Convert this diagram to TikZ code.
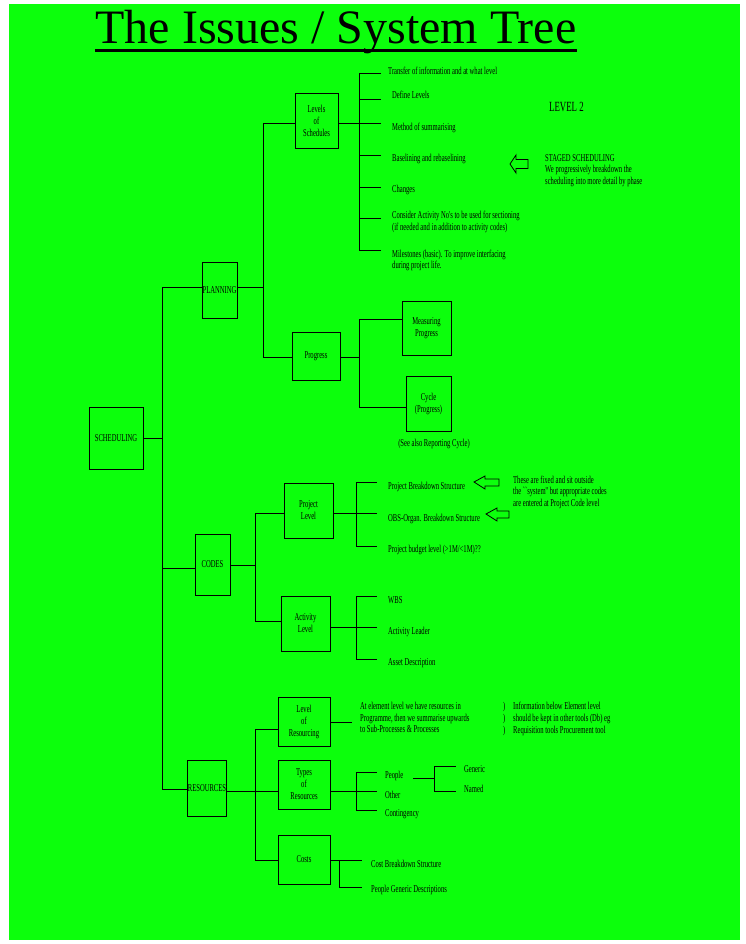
\documentclass[tikz,border=0pt]{standalone}
\usepackage{fontspec}
\setmainfont{Liberation Serif}
\newfontfamily\cond[FakeStretch=0.63]{Liberation Serif}
\definecolor{bg}{RGB}{12,255,12}
\tikzset{
  box/.style={draw, line width=0.9pt, inner sep=0pt, align=center, font=\cond\fontsize{10.5}{12}\selectfont},
  lab/.style={inner sep=0pt, anchor=base west, font=\cond\fontsize{10.5}{12}\selectfont},
  ln/.style={line width=0.9pt},
  harrow/.style={line width=0.8pt}
}
\begin{document}
\begin{tikzpicture}[x=1pt,y=-1pt]
\useasboundingbox (0,0) rectangle (746,944);
\fill[bg] (9,4) rectangle (740,940);
% title
\node[inner sep=0pt, anchor=base, font=\fontsize{48}{50}\selectfont] (title) at (336,44) {The Issues / System Tree};
\draw[line width=2.5pt] ([yshift=-6.5pt]title.base west) -- ([yshift=-6.5pt]title.base east);
% boxes
\node[box, minimum width=54, minimum height=62] (sched) at (116,438) {SCHEDULING};
\node[box, minimum width=35, minimum height=56] (plan) at (219.5,290) {PLANNING};
\node[box, minimum width=35, minimum height=61] (codes) at (212.5,564.5) {CODES};
\node[box, minimum width=38, minimum height=56] (res) at (207,788) {RESOURCES};
\node[box, minimum width=43, minimum height=55] (levsch) at (316.5,120.5) {Levels\\of\\Schedules};
\node[box, minimum width=48, minimum height=48] (prog) at (316,356) {Progress};
\node[box, minimum width=49, minimum height=54] (meas) at (426.5,328) {Measuring\\Progress};
\node[box, minimum width=45, minimum height=55] (cycle) at (428.5,403.5) {Cycle\\(Progress)};
\node[box, minimum width=49, minimum height=55] (projlev) at (308.5,510.5) {Project\\Level};
\node[box, minimum width=49, minimum height=55] (actlev) at (305.5,623.5) {Activity\\Level};
\node[box, minimum width=52, minimum height=49] (levres) at (304,721.5) {Level\\of\\Resourcing};
\node[box, minimum width=52, minimum height=49] (types) at (304,784.5) {Types\\of\\Resources};
\node[box, minimum width=52, minimum height=49] (costs) at (304,859.5) {Costs};
% main trunk
\coordinate (m1) at (162,287);
\coordinate (m2) at (162,568);
\coordinate (m3) at (162,789);
\draw[ln] (sched.east) -- (sched.east -| m1);
\draw[ln] (m1) -- (m3);
\draw[ln] (m1) -- (m1 -| plan.west);
\draw[ln] (m2) -- (m2 -| codes.west);
\draw[ln] (m3) -- (m3 -| res.west);
% planning
\coordinate (p0) at (263,287);
\coordinate (p1) at (263,123);
\coordinate (p2) at (263,357);
\draw[ln] (plan.east |- p0) -- (p0);
\draw[ln] (p1) -- (p2);
\draw[ln] (p1) -- (p1 -| levsch.west);
\draw[ln] (p2) -- (p2 -| prog.west);
% levels of schedules
\coordinate (l0) at (359,123);
\draw[ln] (levsch.east |- l0) -- (l0);
\draw[ln] (359,73) -- (359,250);
\foreach \yy in {73,99,123,155,187,218,250} \draw[ln] (359,\yy) -- (381,\yy);
\node[lab] (t1) at (388,75) {Transfer of information and at what level};
\node[lab] (t2) at (392,99) {Define Levels};
\node[lab] (t3) at (392,131) {Method of summarising};
\node[lab] (t4) at (392,162) {Baselining and rebaselining};
\node[lab] (t5) at (392,193) {Changes};
\node[lab] (t6a) at (392,218) {Consider Activity No's to be used for sectioning};
\node[lab] (t6b) at (392,230) {(if needed and in addition to activity codes)};
\node[lab] (t7a) at (392,257) {Milestones (basic). To improve interfacing};
\node[lab] (t7b) at (392,268) {during project life.};
\node[lab, font=\cond\fontsize{14}{16}\selectfont] (lev2) at (549,112) {LEVEL 2};
\draw[harrow] (510,164) -- (516,155) -- (516,159.5) -- (528,159.5) -- (528,168.5) -- (516,168.5) -- (516,173) -- cycle;
\node[lab] (st1) at (545,161) {STAGED SCHEDULING};
\node[lab] (st2) at (545,173) {We progressively breakdown the};
\node[lab] (st3) at (545,185) {scheduling into more detail by phase};
% progress
\coordinate (g0) at (359,357);
\coordinate (gt) at (359,319);
\coordinate (gb) at (359,407);
\draw[ln] (prog.east |- g0) -- (g0);
\draw[ln] (gt) -- (gb);
\draw[ln] (gt) -- (gt -| meas.west);
\draw[ln] (gb) -- (gb -| cycle.west);
\node[lab, anchor=base] (see) at (434,446) {(See also Reporting Cycle)};
% codes
\coordinate (c0) at (255,565);
\coordinate (ct) at (255,513);
\coordinate (cb) at (255,621);
\draw[ln] (codes.east |- c0) -- (c0);
\draw[ln] (ct) -- (cb);
\draw[ln] (ct) -- (ct -| projlev.west);
\draw[ln] (cb) -- (cb -| actlev.west);
% project level
\coordinate (q0) at (356,513);
\draw[ln] (projlev.east |- q0) -- (q0);
\draw[ln] (356,482) -- (356,546);
\foreach \yy in {482,513,546} \draw[ln] (356,\yy) -- (377,\yy);
\node[lab] (pb1) at (388,489) {Project Breakdown Structure};
\node[lab] (pb2) at (388,521) {OBS-Organ. Breakdown Structure};
\node[lab] (pb3) at (388,552) {Project budget level (>1M/<1M)??};
\draw[harrow] (474,482) -- (485,476) -- (485,479) -- (499,479) -- (499,486) -- (485,486) -- (485,489) -- cycle;
\draw[harrow] (486,514) -- (497,508) -- (497,511) -- (509,511) -- (509,518) -- (497,518) -- (497,521) -- cycle;
\node[lab] (fx1) at (513,483) {These are fixed and sit outside};
\node[lab] (fx2) at (513,494) {the ``system'' but appropriate codes};
\node[lab] (fx3) at (513,506) {are entered at Project Code level};
% activity level
\coordinate (a0) at (356,627);
\draw[ln] (actlev.east |- a0) -- (a0);
\draw[ln] (356,596) -- (356,659);
\foreach \yy in {596,627,659} \draw[ln] (356,\yy) -- (377,\yy);
\node[lab] (w1) at (388,603) {WBS};
\node[lab] (w2) at (388,634) {Activity Leader};
\node[lab] (w3) at (388,665) {Asset Description};
% resources
\coordinate (r0) at (255,791);
\coordinate (rt) at (255,729);
\coordinate (rb) at (255,860);
\draw[ln] (res.east |- r0) -- (r0 -| types.west);
\draw[ln] (rt) -- (rb);
\draw[ln] (rt) -- (rt -| levres.west);
\draw[ln] (rb) -- (rb -| costs.west);
% level of resourcing
\coordinate (v0) at (352,722);
\draw[ln] (levres.east |- v0) -- (v0);
\node[lab] (el1) at (360,709) {At element level we have resources in};
\node[lab] (el2) at (360,721) {Programme, then we summarise upwards};
\node[lab] (el3) at (360,732) {to Sub-Processes \& Processes};
\node[lab] (pa1) at (503,709) {)};
\node[lab] (pa2) at (503,721) {)};
\node[lab] (pa3) at (503,733) {)};
\node[lab] (in1) at (513,709) {Information below Element level};
\node[lab] (in2) at (513,721) {should be kept in other tools (Db) eg};
\node[lab] (in3) at (513,733) {Requisition tools Procurement tool};
% types of resources
\coordinate (y0) at (356,791);
\draw[ln] (types.east |- y0) -- (y0);
\draw[ln] (356,772) -- (356,810);
\foreach \yy in {772,791,810} \draw[ln] (356,\yy) -- (377,\yy);
\node[lab] (pe) at (385,778) {People};
\node[lab] (ot) at (385,798) {Other};
\node[lab] (co) at (385,816) {Contingency};
\coordinate (e0) at (413,778);
\coordinate (e1) at (434,778);
\coordinate (et) at (434,766);
\coordinate (eb) at (434,791);
\draw[ln] (e0) -- (e1);
\draw[ln] (et) -- (eb);
\draw[ln] (et) -- ++(22,0);
\draw[ln] (eb) -- ++(22,0);
\node[lab] (gen) at (464,772) {Generic};
\node[lab] (nam) at (464,792) {Named};
% costs
\coordinate (k0) at (362,860);
\coordinate (k1) at (339,860);
\coordinate (k2) at (339,887);
\draw[ln] (costs.east |- k0) -- (k0);
\draw[ln] (k1) -- (k2) -- ++(23,0);
\node[lab] (cb1) at (371,867) {Cost Breakdown Structure};
\node[lab] (cb2) at (371,892) {People Generic Descriptions};
\end{tikzpicture}
\end{document}
